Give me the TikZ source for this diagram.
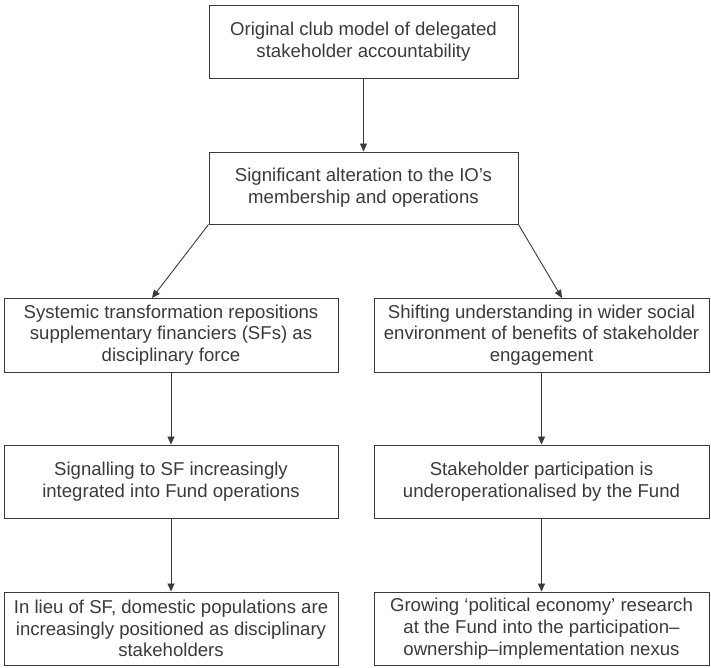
\documentclass[tikz,border=0pt]{standalone}
\usepackage{fontspec}
\setmainfont{Liberation Sans}
\usetikzlibrary{arrows.meta}
\definecolor{ink}{HTML}{3A3A3A}
\begin{document}
\begin{tikzpicture}[x=1pt,y=-1pt,
  box/.style={draw=ink,line width=1pt,text=ink,align=center,inner sep=0pt,
    font=\fontsize{18.6}{21.7}\selectfont},
  arr/.style={draw=ink,line width=0.9pt,-{Triangle[length=8pt,width=7pt]}}]
\useasboundingbox (0,0) rectangle (711,667);
\node[box,minimum width=309pt,minimum height=73pt] (b1) at (363.5,41.5)
  {Original club model of delegated\\stakeholder accountability};
\node[box,minimum width=309pt,minimum height=72pt] (b2) at (363.5,188)
  {Significant alteration to the IO’s\\membership and operations};
\node[box,minimum width=334pt,minimum height=74pt] (b3) at (171,335)
  {Systemic transformation repositions\\supplementary financiers (SFs) as\\disciplinary force};
\node[box,minimum width=335pt,minimum height=74pt] (b4) at (541.5,335)
  {Shifting understanding in wider social\\environment of benefits of stakeholder\\engagement};
\node[box,minimum width=334pt,minimum height=73pt] (b5) at (171,481.5)
  {Signalling to SF increasingly\\integrated into Fund operations};
\node[box,minimum width=335pt,minimum height=73pt] (b6) at (541.5,481.5)
  {Stakeholder participation is\\underoperationalised by the Fund};
\node[box,minimum width=334pt,minimum height=73pt] (b7) at (171,628.5)
  {In lieu of SF, domestic populations are\\increasingly positioned as disciplinary\\stakeholders};
\node[box,minimum width=335pt,minimum height=73pt] (b8) at (541.5,628.5)
  {Growing ‘political economy’ research\\at the Fund into the participation–\\ownership–implementation nexus};
\coordinate (t3) at (152,298);
\coordinate (t4) at (562,298);
\draw[arr] (b1) -- (b2);
\draw[arr] (b2.south west) -- (t3);
\draw[arr] (b2.south east) -- (t4);
\draw[arr] (b3) -- (b5);
\draw[arr] (b5) -- (b7);
\draw[arr] (b4) -- (b6);
\draw[arr] (b6) -- (b8);
\end{tikzpicture}
\end{document}
